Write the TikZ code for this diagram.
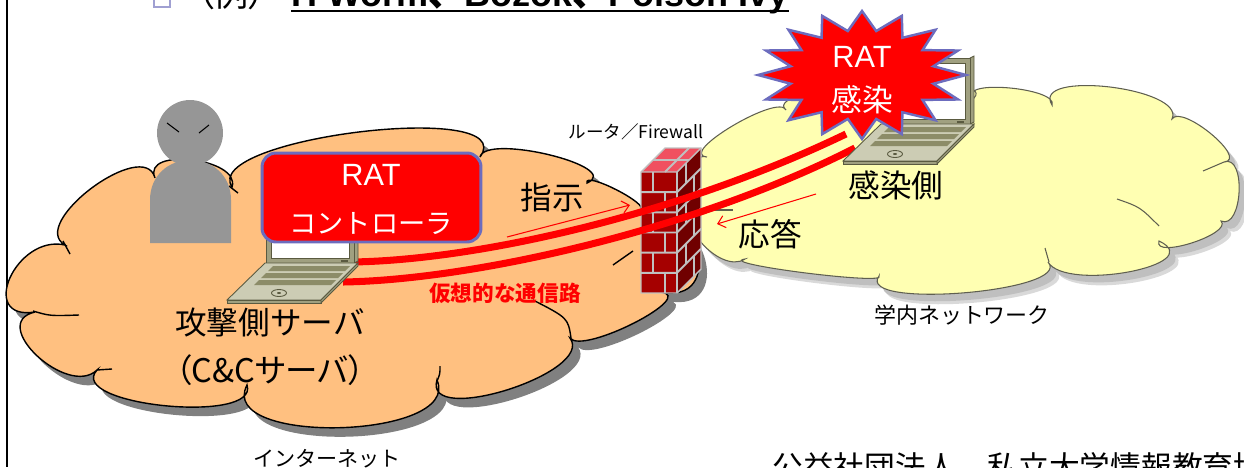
\documentclass[tikz,border=0pt]{standalone}
\usepackage{fontspec}
\setmainfont{Liberation Sans}
\newfontfamily\jp{Noto Sans CJK JP}
\newfontfamily\jpp{Noto Sans CJK JP}[RawFeature=+palt]
\usetikzlibrary{calc,arrows.meta}

\definecolor{inetfill}{RGB}{255,192,128}
\definecolor{inetshadow}{RGB}{128,128,128}
\definecolor{lanfill}{RGB}{255,255,178}
\definecolor{lanedge}{RGB}{95,95,80}
\definecolor{boxedge}{RGB}{108,108,190}
\definecolor{persongray}{RGB}{150,150,150}
\definecolor{lapframe}{RGB}{160,160,128}
\definecolor{lapedge}{RGB}{90,90,64}
\definecolor{lapbase}{RGB}{204,204,180}
\definecolor{lapkey}{RGB}{140,140,104}
\definecolor{brick}{RGB}{165,0,0}
\definecolor{brickside}{RGB}{112,0,0}
\definecolor{bricktop}{RGB}{240,80,96}
\definecolor{mortar}{RGB}{192,192,192}
\definecolor{bulletsq}{RGB}{160,160,210}

% one rounded cloud lobe: from #1 through #2 to #3
\def\bump(#1)(#2)(#3){.. controls ($0.483*(#1)+1.333*(#2)-0.817*(#3)$) and ($1.333*(#2)-0.817*(#1)+0.483*(#3)$) .. (#3)}

% outline of the internet cloud
\def\inetcloud{(65,245)
  \bump(65,245)(10,278)(35,312)
  \bump(35,312)(37,356)(97,370)
  \bump(97,370)(165,406)(247,385)
  \bump(247,385)(340,428)(437,380)
  \bump(437,380)(508,390)(570,338)
  \bump(570,338)(635,323)(660,292)
  \bump(660,292)(698,252)(640,210)
  \bump(640,210)(617,190)(587,183)
  \bump(587,183)(550,155)(480,157)
  \bump(480,157)(360,132)(232,187)
  \bump(232,187)(192,160)(155,178)
  \bump(155,178)(92,188)(65,245) -- cycle}

% outline of the campus network cloud
\def\lancloud{(707,157)
  \bump(707,157)(733,126)(786,110)
  \bump(786,110)(880,84)(974,98)
  \bump(974,98)(1010,88)(1052,105)
  \bump(1052,105)(1110,87)(1172,119)
  \bump(1172,119)(1212,134)(1224,162)
  \bump(1224,162)(1240,192)(1221,221)
  \bump(1221,221)(1193,243)(1159,241)
  \bump(1159,241)(1130,272)(1048,262)
  \bump(1048,262)(965,293)(879,276)
  \bump(879,276)(805,273)(745,259)
  \bump(745,259)(702,243)(705,212)
  \bump(705,212)(690,185)(707,157) -- cycle}

\tikzset{
  pics/laptop/.style={code={
    % lid
    \filldraw[fill=lapframe, draw=lapedge, line width=0.5pt]
      (127,-40) -- (131,-42) -- (131,-108) -- (127,-106) -- cycle;
    \filldraw[fill=lapframe, draw=lapedge, line width=0.5pt] (39,-40) rectangle (127,-106);
    \fill[white] (44,-45) rectangle (122,-101);
    \draw[lapedge, line width=0.4pt] (44,-45) rectangle (122,-101);
    \fill[lapedge] (114,-41.5) rectangle (121,-43.5);
    % base
    \filldraw[fill=lapbase, draw=lapedge, line width=0.5pt]
      (0,-3) -- (38,-40) -- (131,-40) -- (94,-3) -- cycle;
    \filldraw[fill=lapframe, draw=lapedge, line width=0.5pt]
      (0,-3) -- (94,-3) -- (94,0) -- (0,0) -- cycle;
    \filldraw[fill=lapframe, draw=lapedge, line width=0.5pt]
      (94,-3) -- (131,-40) -- (131,-37) -- (94,0) -- cycle;
    % keyboard rows
    \foreach \a/\b in {-37/-32,-30/-25,-23/-18}
      \fill[lapkey] ({27+(-18-\a)},\a) -- ({104+(-18-\a)},\a)
        -- ({104+(-18-\b)},\b) -- ({27+(-18-\b)},\b) -- cycle;
    % track pad
    \draw[lapedge, line width=0.5pt] (52,-10) ellipse [x radius=0.15cm, y radius=0.07cm];
    \fill[lapedge] (52,-10) ellipse [x radius=0.04cm, y radius=0.02cm];
  }}
}

\begin{document}
\begin{tikzpicture}[x=0.02cm, y=-0.02cm,
  every node/.style={inner sep=0pt},
  lbl/.style={font=\jp\fontsize{18}{21}\selectfont},
  smalllbl/.style={font=\jp\fontsize{12}{14}\selectfont},
  whitelatin/.style={text=white, font=\fontsize{17.5}{20}\selectfont},
  channel/.style={red, line width=4pt},
  cue/.style={red, line width=0.6pt, -{Straight Barb[length=4pt,width=7pt]}},
  inetline/.style={draw=black, line width=0.8pt},
  lanline/.style={draw=lanedge, line width=0.6pt}]

\useasboundingbox (0,0) rectangle (1244,467);
\clip (0,0) rectangle (1244,467);

% slide margin rule
\draw[line width=1.2pt] (7,0) -- (7,467);

% slide heading (cut by the top edge)
\node[draw=bulletsq, line width=1pt, minimum size=0.32cm] (bul) at (162,-1) {};
\node[anchor=base west, font=\jpp\fontsize{20}{24}\selectfont] (ex) at (196,6) {（例）};
\node[anchor=base west, font=\bfseries\fontsize{20.5}{24}\selectfont] (rats) at (291,6)
  {H Worm{\jp 、}Bozok{\jp 、}Poison Ivy};
\draw[line width=1.3pt] ([yshift=-3pt]rats.base west) -- ([yshift=-3pt]rats.base east);

% internet cloud
\fill[inetshadow, shift={(8,9)}] \inetcloud;
\filldraw[fill=inetfill, inetline] \inetcloud;
\draw[inetline] (63,241) -- (70,254);
\draw[inetline] (33,311) .. controls (50,316) .. (79,315);
\draw[inetline] (97,370) -- (112,369);
\draw[inetline] (437,381) .. controls (440,374) .. (440,366);
\draw[inetline] (571,338) .. controls (568,318) .. (533,300);
\draw[inetline] (613,265) -- (633,251);
\draw[inetline] (229,186) -- (238,193);

% campus network cloud
\fill[black!15, shift={(9,10)}] \lancloud;
\fill[black!25, shift={(6,7)}] \lancloud;
\filldraw[fill=lanfill, lanline] \lancloud;
\draw[lanline] (700,210) -- (733,210);
\draw[lanline] (1117,199) .. controls (1140,207) .. (1159,226);
\draw[lanline] (1045,248) -- (1049,262);
\draw[lanline] (1203,171) -- (1224,162);

% attacker figure
\fill[persongray] (190,133) circle[radius=0.66cm];
\fill[persongray] (150,243) -- (150,200) .. controls (150,176) and (168,160) .. (190.5,160)
  .. controls (213,160) and (231,176) .. (231,200) -- (231,243) -- cycle;
\draw[line width=0.6pt] (167,123) -- (179,132);
\draw[line width=0.6pt] (199,133) -- (209,125);

% router / firewall
\fill[brick] (641,172) rectangle (677,293);
\fill[brickside] (677,172) -- (701,148) -- (701,269) -- (677,293) -- cycle;
\fill[bricktop] (641,172) -- (665,148) -- (701,148) -- (677,172) -- cycle;
\foreach \k in {1,...,5}{
  \draw[mortar, line width=1.1pt] (641,{172+20.17*\k}) -- (677,{172+20.17*\k}) -- (701,{148+20.17*\k});
}
\foreach \k in {0,...,5}{
  \pgfmathsetmacro\ya{172+20.17*\k}
  \pgfmathsetmacro\yb{172+20.17*(\k+1)}
  \pgfmathsetmacro\xf{mod(\k,2)==0 ? 653 : 665}
  \pgfmathsetmacro\xs{mod(\k,2)==0 ? 686 : 694}
  \draw[mortar, line width=1.1pt] (\xf,\ya) -- (\xf,\yb);
  \draw[mortar, line width=1.1pt] (\xs,{\ya-(\xs-677)}) -- (\xs,{\yb-(\xs-677)});
}
\draw[mortar, line width=1.1pt] (653,160) -- (689,160);
\draw[mortar, line width=1.1pt] (665,172) -- (677,160);
\draw[mortar, line width=1.1pt] (677,160) -- (689,148);
\draw[mortar, line width=0.8pt] (641,172) -- (665,148) -- (701,148) -- (701,269) -- (677,293)
  -- (641,293) -- cycle;
\draw[mortar, line width=0.8pt] (641,172) -- (677,172) -- (701,148);
\draw[mortar, line width=0.8pt] (677,172) -- (677,293);

% covert channel between the two machines
\coordinate (atkU) at (352,262);
\coordinate (atkL) at (343,282);
\coordinate (infU) at (846,134);
\coordinate (infL) at (855,148);
\draw[channel] (atkU) .. controls (480,260) and (680,214) .. (infU);
\draw[channel] (atkL) .. controls (470,280) and (690,232) .. (infL);

% laptops
\pic (atkpc) at (227,303) {laptop};
\pic (infpc) at (843,164) {laptop};

% RAT controller box
\node[draw=boxedge, fill=red, line width=1.7pt, rounded corners=8pt,
      minimum width=4.38cm, minimum height=1.78cm] (ratbox) at (371.5,197.5) {};
\node[whitelatin] (ratA) at (371,175) {RAT};
\node[text=white, font=\jp\fontsize{15.5}{18}\selectfont] (ratB) at (371,224) {コントローラ};

% infection burst
\begin{scope}[shift={(862,75)}, x=2.08cm, y=-1.28cm]
  \filldraw[fill=red, draw=boxedge, line width=1.4pt, line join=miter]
    plot[samples at={0,...,31}, variable=\k] ({90+11.25*\k}:{1-0.3*mod(\k,2)}) -- cycle;
\end{scope}
\node[whitelatin] (burstA) at (862,57) {RAT};
\node[text=white, font=\jp\fontsize{17.5}{20}\selectfont] (burstB) at (862,100) {感染};

% command and response cues
\coordinate (cmdS) at (507,237);
\coordinate (cmdE) at (630,205);
\coordinate (ansS) at (816,194);
\coordinate (ansE) at (717,224);
\draw[cue] (cmdS) -- (cmdE);
\draw[cue] (ansS) -- (ansE);

% labels
\node[lbl] (atk) at (270,322) {攻撃側サーバ};
\node[lbl, font=\jpp\fontsize{18.5}{21}\selectfont] (cc) at (270,370) {（C\&Cサーバ）};
\node[lbl] (cmd) at (552,197) {指示};
\node[lbl] (ans) at (770,234) {応答};
\node[lbl] (inf) at (896,185) {感染側};
\node[text=red, font=\jp\bfseries\fontsize{12.3}{14}\selectfont] (path) at (505,293) {仮想的な通信路};
\node[font=\jp\fontsize{10}{12}\selectfont] (fw) at (636,132) {ルータ／Firewall};
\node[font=\jp\fontsize{12.5}{14}\selectfont] (lan) at (962,315) {学内ネットワーク};
\node[smalllbl] (inet) at (327,459) {インターネット};
\node[anchor=west, font=\jp\fontsize{17.5}{20}\selectfont] (org) at (772,467)
  {公益社団法人　私立大学情報教育協会};
\end{tikzpicture}
\end{document}
